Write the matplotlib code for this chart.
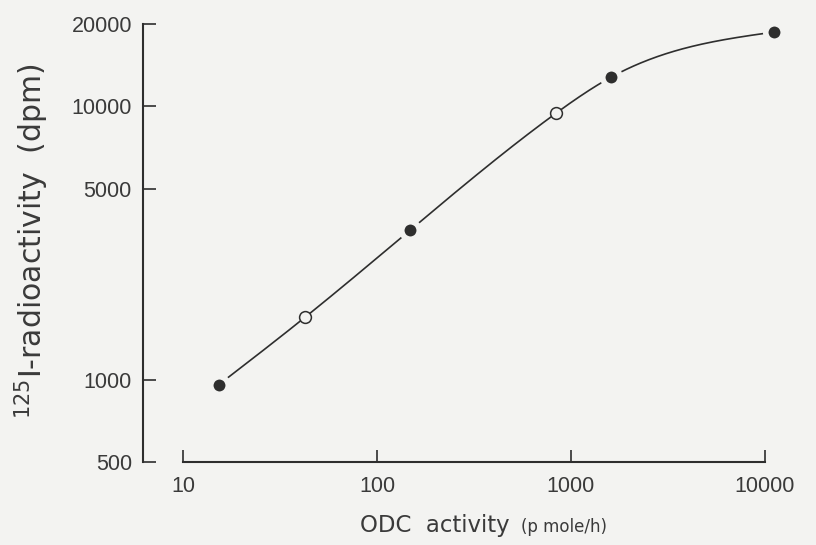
import matplotlib
matplotlib.use("Agg")
import matplotlib.pyplot as plt
import numpy as np

# ODC activity (pmole/h) vs 125I radioactivity (dpm)
odc = [15.3, 42.5, 148, 837, 1607, 11200]
dpm = [959, 1690, 3520, 9430, 12770, 18700]
filled = [True, False, True, False, True, True]

x_ticks = [10, 100, 1000, 10000]
y_ticks = [500, 1000, 5000, 10000, 20000]

bg = "#f3f3f1"
ink = "#2e2e2e"


def natural_spline(x, y, xs):
    # natural cubic spline through the points
    n = len(x)
    h = np.diff(x)
    A = np.zeros((n, n))
    b = np.zeros(n)
    A[0, 0] = A[-1, -1] = 1
    for i in range(1, n - 1):
        A[i, i - 1] = h[i - 1]
        A[i, i] = 2 * (h[i - 1] + h[i])
        A[i, i + 1] = h[i]
        b[i] = 3 * ((y[i + 1] - y[i]) / h[i] - (y[i] - y[i - 1]) / h[i - 1])
    c = np.linalg.solve(A, b)
    out = np.empty_like(xs)
    for k, v in enumerate(xs):
        i = min(max(np.searchsorted(x, v) - 1, 0), n - 2)
        d = v - x[i]
        bi = (y[i + 1] - y[i]) / h[i] - h[i] * (2 * c[i] + c[i + 1]) / 3
        di = (c[i + 1] - c[i]) / (3 * h[i])
        out[k] = y[i] + bi * d + c[i] * d ** 2 + di * d ** 3
    return out


fig = plt.figure(figsize=(8.16, 5.45), dpi=100, facecolor=bg)
ax = fig.add_axes([143 / 816, 83 / 545, 657 / 816, 438 / 545])
ax.set_facecolor(bg)
ax.set_xscale("log")
ax.set_yscale("log")
ax.set_xlim(6.22, 15170)
ax.set_ylim(500, 20000)

lx = np.log10(odc)
ly = np.log10(dpm)
xs = np.linspace(lx[0], lx[-1], 400)
ys = natural_spline(lx, ly, xs)
ax.plot(10 ** xs, 10 ** ys, color=ink, lw=1.2, zorder=2)

for xv, yv, f in zip(odc, dpm, filled):
    if f:
        ax.plot(xv, yv, "o", ms=12.6, mfc=ink, mec=bg, mew=4, zorder=3, clip_on=False)
    else:
        ax.plot(xv, yv, "o", ms=8.5, mfc=bg, mec=ink, mew=1.1, zorder=3, clip_on=False)

for s in ["top", "right"]:
    ax.spines[s].set_visible(False)
ax.spines["left"].set_bounds(500, 20000)
ax.spines["bottom"].set_bounds(10, 10000)
for s in ["left", "bottom"]:
    ax.spines[s].set_linewidth(1.5)
    ax.spines[s].set_color(ink)

ax.set_xticks(x_ticks)
ax.set_xticklabels([str(v) for v in x_ticks])
ax.set_yticks(y_ticks)
ax.set_yticklabels([str(v) for v in y_ticks])
ax.minorticks_off()
ax.tick_params(direction="in", length=9, width=1.2, color=ink, labelcolor="#3a3a3a",
               labelsize=15.5)
ax.tick_params(axis="x", pad=10)
ax.tick_params(axis="y", pad=8)
for lab in ax.get_xticklabels() + ax.get_yticklabels():
    lab.set_family("Liberation Sans")

plt.rcParams["mathtext.fontset"] = "dejavusans"
fig.text(32 / 816, 1 - 241 / 545, r"$^{125}$I-radioactivity  (dpm)", rotation=90,
         ha="center", va="center", fontsize=21.5, color="#3a3a3a", family="DejaVu Sans")
fig.text(360 / 816, 1 - 532 / 545, "ODC  activity", ha="left", va="baseline",
         fontsize=16.5, color="#3a3a3a", family="DejaVu Sans")
fig.text(521 / 816, 1 - 532 / 545, "(p mole/h)", ha="left", va="baseline",
         fontsize=12, color="#3a3a3a", family="DejaVu Sans")

fig.savefig("out.png", dpi=100, facecolor=bg)
